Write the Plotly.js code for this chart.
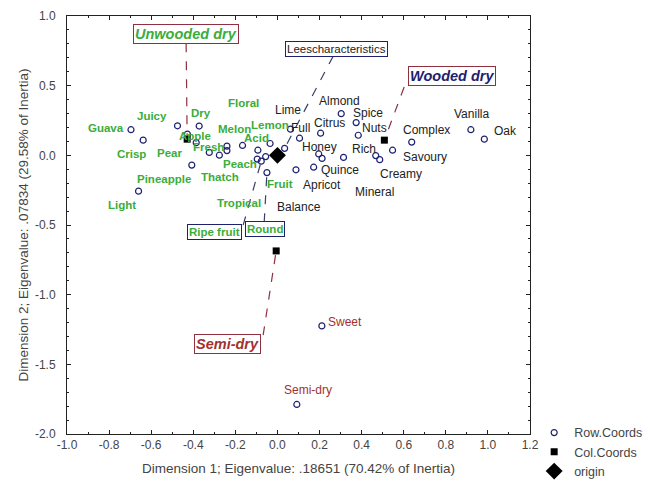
<!DOCTYPE html>
<html>
<head>
<meta charset="utf-8">
<script src="https://cdn.plot.ly/plotly-3.0.1.min.js"></script>
<style>html,body{margin:0;padding:0;background:#fff;}#chart{width:650px;height:483px;}</style>
</head>
<body>
<div id="chart"></div>
<script>
// Row coordinates (descriptors)
const rowX = [-0.696,-0.638,-0.475,-0.372,-0.428,-0.386,-0.324,-0.276,-0.240,-0.240,-0.166,-0.035,-0.093,-0.096,-0.077,-0.056,-0.407,-0.660,-0.050,0.062,0.105,0.034,0.088,0.172,0.205,0.196,0.212,0.303,0.374,0.384,0.314,0.467,0.486,0.547,0.638,0.919,0.983,0.211,0.092];
const rowY = [0.184,0.109,0.212,0.210,0.152,0.091,0.021,0.001,0.066,0.034,0.071,0.085,0.037,-0.027,-0.042,-0.009,-0.070,-0.257,-0.124,0.188,0.123,0.050,-0.104,-0.085,0.159,0.010,-0.022,0.299,0.235,0.144,-0.015,-0.002,-0.031,0.037,0.095,0.184,0.116,-1.224,-1.788];

// Column coordinates (wine styles)
const colNames = ["Unwooded dry","Wooded dry","Semi-dry"];
const colX = [-0.429,0.508,-0.006];
const colY = [0.116,0.109,-0.686];

const originX = [0];
const originY = [0];

// Descriptor labels
const greenText = ["Guava","Juicy","Dry","Floral","Apple","Melon","Lemon","Acid","Fresh","Crisp","Pear","Peach","Thatch","Pineapple","Light","Fruit","Tropical"];
const greenX = [-0.814,-0.595,-0.362,-0.163,-0.391,-0.206,-0.035,-0.101,-0.329,-0.695,-0.514,-0.177,-0.272,-0.538,-0.738,0.013,-0.182];
const greenY = [0.195,0.281,0.303,0.375,0.138,0.188,0.217,0.123,0.059,0.009,0.016,-0.063,-0.156,-0.171,-0.358,-0.207,-0.343];

const blackText = ["Lime","Almond","Full","Citrus","Spice","Nuts","Honey","Rich","Complex","Vanilla","Oak","Savoury","Creamy","Quince","Apricot","Mineral","Balance"];
const blackX = [0.051,0.293,0.108,0.246,0.431,0.459,0.198,0.412,0.706,0.920,1.082,0.702,0.588,0.298,0.212,0.459,0.103];
const blackY = [0.324,0.389,0.195,0.231,0.303,0.195,0.059,0.045,0.181,0.296,0.174,-0.013,-0.135,-0.106,-0.214,-0.264,-0.372];

const redText = ["Sweet","Semi-dry"];
const redX = [0.322,0.146];
const redY = [-1.197,-1.686];

// Boxed callouts: label, box position, leader start, leader end
const boxText = ["Unwooded dry","Wooded dry","Semi-dry","Leescharacteristics","Ripe fruit","Round"];
const boxX = [-0.434,0.830,-0.239,0.279,-0.301,-0.060];
const boxY = [0.870,0.569,-1.355,0.762,-0.551,-0.530];
const leadX0 = [-0.434,0.602,-0.068,0.265,-0.163,-0.063];
const leadY0 = [0.805,0.490,-1.291,0.712,-0.501,-0.480];
const leadX1 = [colX[0],colX[1],colX[2],rowX[21],rowX[14],rowX[18]];
const leadY1 = [colY[0],colY[1],colY[2],rowY[21],rowY[14],rowY[18]];

const xTickVals = [-1.0,-0.8,-0.6,-0.4,-0.2,0.0,0.2,0.4,0.6,0.8,1.0,1.2];
const xTickText = ["-1.0","-0.8","-0.6","-0.4","-0.2","0.0","0.2","0.4","0.6","0.8","1.0","1.2"];
const yTickVals = [1.0,0.5,0.0,-0.5,-1.0,-1.5,-2.0];
const yTickText = ["1.0","0.5","0.0","-0.5","-1.0","-1.5","-2.0"];

const FONT = "Liberation Sans, Arial, sans-serif";
const GREEN = "#3aad3a", BLACK = "#222222", RED = "#a33030", NAVY = "#1d2170", DRED = "#8e3040";

const traces = [
  {x: rowX, y: rowY, mode: "markers", type: "scatter", name: "Row.Coords",
   marker: {symbol: "circle-open", size: 6, color: NAVY, line: {width: 1.2, color: NAVY}}},
  {x: colX, y: colY, mode: "markers", type: "scatter", name: "Col.Coords", text: colNames,
   marker: {symbol: "square", size: 7, color: "#000"}},
  {x: originX, y: originY, mode: "markers", type: "scatter", name: "origin",
   marker: {symbol: "diamond", size: 13, color: "#000"}}
];

const annotations = [];
function addLabels(texts, xs, ys, color, bold, size) {
  texts.forEach((t, i) => annotations.push({
    x: xs[i], y: ys[i], xref: "x", yref: "y", showarrow: false,
    text: bold ? "<b>" + t + "</b>" : t,
    font: {family: FONT, size: size, color: color}
  }));
}
addLabels(greenText, greenX, greenY, GREEN, true, 11.5);
addLabels(blackText, blackX, blackY, BLACK, false, 12);
addLabels(redText, redX, redY, RED, false, 12);

const boxStyle = [
  {color: GREEN, border: DRED, size: 14.5, fmt: "bi"},
  {color: NAVY, border: DRED, size: 14.5, fmt: "bi"},
  {color: RED, border: DRED, size: 14.5, fmt: "bi"},
  {color: BLACK, border: NAVY, size: 11.5, fmt: ""},
  {color: GREEN, border: NAVY, size: 11.5, fmt: "b"},
  {color: GREEN, border: NAVY, size: 11.5, fmt: "b"}
];
boxText.forEach((t, i) => {
  const s = boxStyle[i];
  let txt = t;
  if (s.fmt.includes("i")) txt = "<i>" + txt + "</i>";
  if (s.fmt.includes("b")) txt = "<b>" + txt + "</b>";
  annotations.push({
    x: boxX[i], y: boxY[i], xref: "x", yref: "y", showarrow: false, text: txt,
    font: {family: FONT, size: s.size, color: s.color},
    bgcolor: "#fff", bordercolor: s.border, borderwidth: 1, borderpad: 1
  });
});

const shapes = boxText.map((t, i) => ({
  type: "line", xref: "x", yref: "y", layer: "below",
  x0: leadX0[i], y0: leadY0[i], x1: leadX1[i], y1: leadY1[i],
  line: {color: i < 3 ? DRED : "#3a3f6a", width: 1.2, dash: "dash"}
}));

const layout = {
  width: 650, height: 483,
  margin: {l: 67, r: 120, t: 16, b: 49, autoexpand: false},
  paper_bgcolor: "#fff", plot_bgcolor: "#fff",
  font: {family: FONT, size: 12, color: "#444"},
  showlegend: true,
  legend: {x: 1.009, y: -0.043, xanchor: "left", yanchor: "middle", bgcolor: "rgba(0,0,0,0)",
           font: {family: FONT, size: 12.5, color: "#444"}, tracegroupgap: 0, itemwidth: 30},
  xaxis: {range: [-1.0, 1.2], tickvals: xTickVals, ticktext: xTickText, automargin: false,
          showgrid: false, zeroline: false, showline: true, mirror: "ticks",
          linecolor: "#222", linewidth: 1, ticks: "inside", ticklen: 4, tickcolor: "#222",
          minor: {dtick: 0.1, ticks: "inside", ticklen: 2, tickcolor: "#222"},
          tickfont: {family: FONT, size: 12, color: "#444"},
          title: {text: "Dimension 1; Eigenvalue: .18651 (70.42% of Inertia)",
                  font: {family: FONT, size: 13.5, color: "#444"}, standoff: 12}},
  yaxis: {range: [-2.0, 1.0], tickvals: yTickVals, ticktext: yTickText, automargin: false,
          showgrid: false, zeroline: false, showline: true, mirror: "ticks",
          linecolor: "#222", linewidth: 1, ticks: "inside", ticklen: 4, tickcolor: "#222",
          ticklabelstandoff: 8,
          minor: {dtick: 0.1, ticks: "inside", ticklen: 2, tickcolor: "#222"},
          tickfont: {family: FONT, size: 12, color: "#444"},
          title: {text: "Dimension 2; Eigenvalue: .07834 (29.58% of Inertia)",
                  font: {family: FONT, size: 13.5, color: "#444"}, standoff: 3}},
  annotations: annotations,
  shapes: shapes
};

Plotly.newPlot("chart", traces, layout, {displayModeBar: false, staticPlot: true});
</script>
</body>
</html>
